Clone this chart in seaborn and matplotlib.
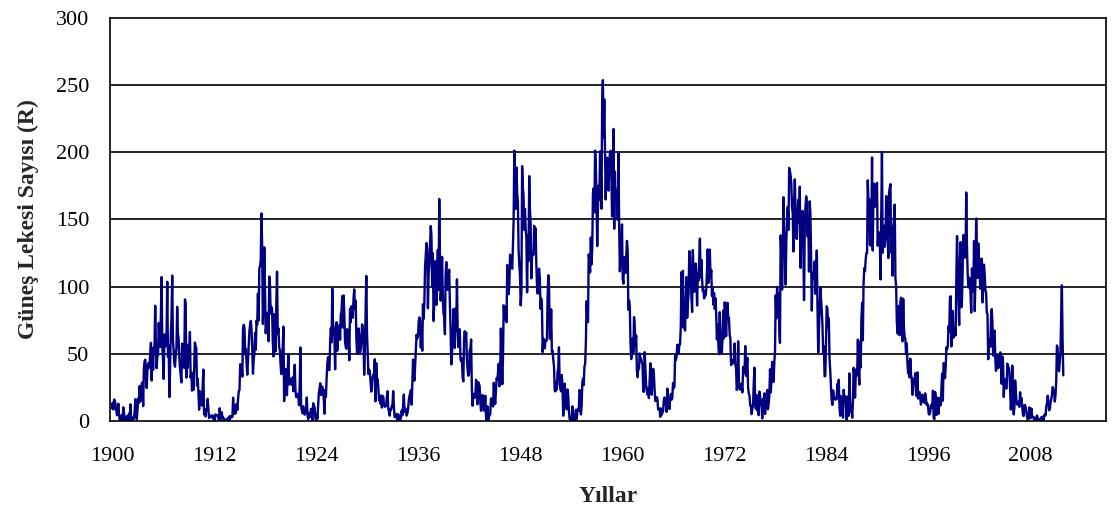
import numpy as np
import pandas as pd
import matplotlib
matplotlib.use("Agg")
import matplotlib.pyplot as plt
import seaborn as sns

# Monthly sunspot numbers (R), decade by decade (Jan 1900 onwards)
ssn_1900s = [
    9.4, 13.6, 8.6, 16.0, 15.2, 12.1, 8.3, 4.3, 8.3, 12.9, 4.5, 0.3,
    0.2, 2.4, 4.5, 0.0, 10.2, 5.8, 0.7, 1.0, 0.6, 3.7, 3.8, 0.0,
    5.5, 0.0, 12.4, 0.0, 2.8, 1.4, 0.9, 2.3, 7.6, 16.3, 10.3, 1.1,
    8.3, 17.0, 13.5, 26.1, 14.6, 16.3, 27.9, 28.8, 11.1, 38.9, 44.5, 45.6,
    31.6, 24.5, 37.2, 43.0, 39.5, 41.9, 50.6, 58.2, 30.1, 54.2, 38.0, 54.6,
    54.8, 85.8, 56.5, 39.3, 48.0, 49.0, 73.0, 58.8, 55.0, 78.7, 107.2, 55.5,
    45.5, 31.3, 64.5, 55.3, 57.7, 63.2, 103.6, 47.7, 56.1, 17.8, 38.9, 64.7,
    76.4, 108.2, 60.7, 52.6, 42.9, 40.4, 49.7, 54.3, 85.0, 65.4, 61.5, 47.3,
    39.2, 33.9, 28.7, 57.6, 40.8, 48.1, 39.5, 90.5, 86.9, 32.3, 45.5, 39.5,
    56.7, 46.6, 66.3, 32.3, 36.0, 22.6, 35.8, 23.1, 38.8, 58.4, 55.8, 54.2,
]
ssn_1910s = [
    26.4, 31.5, 21.4, 8.4, 22.2, 12.3, 14.1, 11.5, 26.2, 38.3, 4.9, 5.8,
    3.4, 9.0, 7.8, 16.5, 9.0, 2.2, 3.5, 4.0, 4.0, 2.6, 4.2, 2.2,
    0.3, 0.0, 4.9, 4.5, 4.4, 4.1, 3.0, 0.3, 9.5, 4.6, 1.1, 6.4,
    2.3, 2.9, 0.5, 0.9, 0.0, 0.0, 1.7, 0.2, 1.2, 3.1, 0.7, 3.8,
    2.8, 2.6, 3.1, 17.3, 5.2, 11.4, 5.4, 7.7, 12.7, 8.2, 16.4, 22.3,
    23.0, 42.3, 38.8, 41.3, 33.0, 68.8, 71.6, 69.6, 49.5, 53.5, 42.5, 34.5,
    45.3, 55.4, 67.0, 71.8, 74.5, 67.7, 53.5, 35.2, 45.1, 50.7, 65.6, 53.0,
    74.7, 71.9, 94.8, 74.7, 114.1, 114.9, 119.8, 154.5, 129.4, 72.2, 96.4, 129.3,
    96.0, 65.3, 72.2, 80.5, 76.7, 59.4, 107.6, 101.7, 79.9, 85.0, 83.4, 59.2,
    48.1, 79.5, 66.5, 51.8, 88.1, 111.2, 64.7, 69.0, 54.7, 52.8, 42.0, 34.9,
]
ssn_1920s = [
    51.1, 53.9, 70.2, 14.8, 33.3, 38.7, 27.5, 19.2, 36.3, 49.6, 27.2, 29.9,
    31.5, 28.3, 26.7, 32.4, 22.2, 33.7, 41.9, 22.8, 17.8, 18.2, 17.8, 20.3,
    11.8, 26.4, 54.7, 11.0, 8.0, 5.8, 10.9, 6.5, 4.7, 6.2, 7.4, 17.5,
    4.5, 1.5, 3.3, 6.1, 3.2, 9.1, 3.5, 0.5, 13.2, 11.6, 10.0, 2.8,
    0.5, 5.1, 1.8, 11.3, 20.8, 24.0, 28.1, 19.3, 25.1, 25.6, 22.5, 16.5,
    5.5, 23.2, 18.0, 31.7, 42.8, 47.5, 38.5, 37.9, 60.2, 69.2, 58.6, 98.6,
    71.8, 69.9, 62.5, 38.5, 64.3, 73.5, 52.3, 61.6, 60.8, 71.5, 60.5, 79.4,
    81.6, 93.0, 69.6, 93.5, 79.1, 59.1, 54.9, 53.8, 68.4, 63.1, 67.2, 45.2,
    83.5, 73.5, 85.4, 80.6, 76.9, 91.4, 98.0, 83.8, 89.7, 61.4, 50.3, 59.0,
    68.9, 64.1, 50.2, 52.8, 58.2, 71.9, 70.2, 65.8, 34.4, 54.0, 81.1, 108.0,
]
ssn_1930s = [
    65.3, 49.2, 35.0, 38.2, 36.8, 28.8, 21.9, 24.9, 32.1, 34.4, 35.6, 46.0,
    14.6, 43.1, 30.0, 31.2, 24.6, 15.3, 17.4, 13.0, 19.0, 10.0, 18.7, 17.8,
    12.1, 10.6, 11.2, 11.2, 17.9, 22.2, 9.6, 6.8, 4.0, 8.9, 8.2, 11.0,
    12.3, 22.2, 10.1, 2.9, 3.2, 5.2, 2.8, 0.2, 5.1, 3.0, 0.6, 0.3,
    3.4, 7.8, 4.3, 11.3, 19.7, 6.7, 9.3, 8.3, 4.0, 5.7, 8.7, 15.4,
    18.9, 20.5, 23.1, 12.2, 27.3, 45.7, 33.9, 30.1, 42.1, 53.2, 64.2, 61.5,
    62.8, 74.3, 77.1, 74.9, 54.6, 70.0, 52.3, 87.0, 76.0, 89.0, 115.4, 123.4,
    132.5, 128.5, 83.9, 109.3, 116.7, 130.3, 145.1, 137.7, 100.7, 124.9, 74.4, 88.8,
    98.4, 119.2, 86.5, 101.0, 127.4, 97.5, 165.3, 115.7, 89.6, 99.1, 122.2, 92.7,
    80.3, 77.4, 64.6, 109.1, 118.3, 101.0, 97.6, 105.8, 112.6, 88.1, 68.1, 42.1,
]
ssn_1940s = [
    50.5, 59.4, 83.3, 60.7, 54.4, 83.9, 67.5, 105.5, 66.5, 55.0, 58.4, 68.3,
    45.6, 44.5, 46.4, 32.8, 29.5, 59.8, 66.9, 60.0, 65.9, 46.3, 38.3, 33.7,
    35.6, 52.8, 54.2, 60.7, 25.0, 11.4, 17.7, 20.2, 17.2, 19.2, 30.7, 22.5,
    12.4, 28.9, 27.4, 26.1, 14.1, 7.6, 13.2, 19.4, 10.0, 7.8, 10.2, 18.8,
    3.7, 0.5, 11.0, 0.3, 2.5, 5.0, 5.0, 16.7, 14.3, 16.9, 10.8, 28.4,
    18.5, 12.7, 21.5, 32.0, 30.6, 36.2, 42.6, 25.9, 34.9, 68.8, 46.0, 27.4,
    47.6, 86.2, 76.6, 75.7, 84.9, 73.5, 116.2, 107.2, 94.4, 102.3, 123.8, 121.7,
    115.7, 113.4, 129.8, 149.8, 201.3, 163.9, 157.9, 188.8, 169.4, 163.6, 128.0, 116.5,
    108.5, 86.1, 94.8, 189.7, 174.0, 167.8, 142.2, 157.9, 143.3, 136.3, 95.8, 138.0,
    119.1, 182.3, 157.5, 147.0, 106.2, 121.7, 125.8, 123.8, 145.3, 131.6, 143.5, 117.6,
]
ssn_1950s = [
    101.6, 94.8, 109.7, 113.4, 106.2, 83.6, 91.0, 85.2, 51.3, 61.4, 54.8, 54.1,
    59.9, 59.9, 59.9, 92.9, 108.5, 100.6, 61.5, 61.0, 83.1, 51.6, 52.4, 45.8,
    40.7, 22.7, 22.0, 29.1, 23.4, 36.4, 39.3, 54.9, 28.2, 23.8, 22.1, 34.3,
    26.5, 3.9, 10.0, 27.8, 12.5, 21.8, 8.6, 23.5, 19.3, 8.2, 1.6, 2.5,
    0.2, 0.5, 10.9, 1.8, 0.8, 0.2, 4.8, 8.4, 1.5, 7.0, 9.2, 7.6,
    23.1, 20.8, 4.9, 11.3, 28.9, 31.7, 26.7, 40.7, 42.7, 58.5, 89.2, 76.9,
    73.6, 124.0, 118.4, 110.7, 136.6, 116.6, 129.1, 169.6, 173.2, 155.3, 201.3, 192.1,
    165.0, 130.2, 157.4, 175.2, 164.6, 200.7, 187.2, 158.0, 235.8, 253.8, 210.9, 239.4,
    202.5, 164.9, 190.7, 196.0, 175.3, 171.5, 191.4, 200.2, 201.2, 181.5, 152.3, 187.6,
    217.4, 143.1, 185.7, 163.3, 172.0, 168.7, 149.6, 199.6, 145.2, 111.4, 124.0, 125.0,
]
ssn_1960s = [
    146.3, 106.0, 102.2, 122.0, 119.6, 110.2, 121.7, 134.1, 127.2, 82.8, 89.6, 85.6,
    57.9, 46.1, 53.0, 61.4, 51.0, 77.4, 70.2, 55.8, 63.6, 37.7, 32.6, 39.9,
    38.7, 50.3, 45.6, 46.4, 43.7, 42.0, 21.8, 21.8, 51.3, 39.5, 26.9, 23.2,
    19.8, 24.4, 17.1, 29.3, 43.0, 35.9, 19.6, 33.2, 38.8, 35.3, 23.4, 14.9,
    15.3, 17.7, 16.5, 8.6, 9.5, 9.1, 3.1, 9.3, 4.7, 6.1, 7.4, 15.1,
    17.5, 14.2, 11.7, 6.8, 24.1, 15.9, 11.9, 8.9, 16.8, 20.1, 15.8, 17.0,
    28.2, 24.4, 25.3, 48.7, 45.3, 47.7, 56.7, 51.2, 50.2, 57.2, 57.2, 70.4,
    110.9, 93.6, 111.8, 69.5, 86.5, 67.3, 91.5, 107.2, 76.8, 88.2, 94.3, 126.4,
    121.8, 111.9, 92.2, 81.2, 127.2, 110.3, 96.1, 109.3, 117.2, 107.7, 86.0, 109.8,
    104.4, 120.5, 135.8, 106.8, 120.0, 106.0, 96.8, 98.0, 91.3, 95.7, 93.5, 97.9,
]
ssn_1970s = [
    111.5, 127.8, 102.9, 109.5, 127.5, 106.8, 112.5, 93.0, 99.5, 86.6, 95.2, 83.5,
    91.3, 79.0, 60.7, 71.8, 57.5, 49.8, 81.0, 61.4, 50.2, 51.7, 63.2, 82.2,
    61.5, 88.4, 80.1, 63.2, 80.5, 88.0, 76.5, 76.8, 64.0, 61.3, 41.6, 45.3,
    43.4, 42.9, 46.0, 57.7, 42.4, 39.5, 23.1, 25.6, 59.3, 30.7, 23.9, 23.3,
    27.6, 26.0, 21.3, 40.3, 39.5, 36.0, 55.8, 33.6, 40.2, 47.1, 25.0, 20.5,
    18.9, 11.5, 11.5, 5.1, 9.0, 11.4, 28.2, 39.7, 13.9, 9.1, 19.4, 7.8,
    8.1, 4.3, 21.9, 18.8, 12.4, 12.2, 1.9, 16.4, 13.5, 20.6, 5.2, 15.3,
    16.4, 23.1, 8.7, 12.9, 18.6, 38.5, 21.4, 30.1, 44.0, 43.8, 29.1, 43.2,
    51.9, 93.6, 76.5, 99.7, 82.7, 95.1, 70.4, 58.1, 138.2, 125.1, 97.9, 122.7,
    166.6, 137.5, 138.0, 101.5, 134.4, 149.5, 159.4, 142.2, 188.4, 186.2, 183.3, 176.3,
]
ssn_1980s = [
    159.6, 155.0, 126.2, 164.1, 179.9, 157.3, 136.3, 135.4, 155.0, 164.7, 147.9, 174.4,
    114.0, 141.3, 135.5, 156.4, 127.5, 90.0, 143.8, 158.7, 167.3, 162.4, 137.5, 150.1,
    111.2, 163.6, 153.8, 122.0, 82.2, 110.4, 106.1, 107.6, 118.8, 94.7, 98.1, 127.0,
    84.3, 51.0, 66.5, 80.7, 99.2, 91.1, 82.2, 71.8, 50.3, 55.8, 33.3, 33.4,
    57.0, 85.4, 83.5, 69.7, 76.4, 46.1, 37.4, 25.5, 15.7, 12.0, 22.8, 18.7,
    16.5, 15.9, 17.2, 16.2, 27.5, 24.2, 30.7, 11.1, 3.9, 18.6, 16.2, 17.3,
    2.5, 23.2, 15.1, 18.5, 13.7, 1.1, 18.1, 7.4, 3.8, 35.4, 15.2, 6.8,
    10.4, 2.4, 14.7, 39.6, 33.0, 17.4, 33.9, 38.7, 33.9, 60.6, 39.9, 27.1,
    59.0, 40.0, 76.2, 88.0, 60.1, 101.8, 113.8, 111.6, 120.1, 125.1, 125.1, 179.2,
    161.3, 165.1, 131.4, 130.6, 138.5, 196.2, 126.9, 168.9, 176.7, 159.4, 173.0, 165.5,
]
ssn_1990s = [
    177.3, 130.5, 140.3, 140.3, 132.2, 105.4, 149.4, 200.3, 125.2, 145.5, 131.4, 129.7,
    136.9, 167.5, 141.9, 140.0, 121.3, 169.7, 173.7, 176.3, 125.3, 144.1, 108.2, 144.4,
    150.0, 161.1, 106.7, 99.8, 73.8, 65.2, 85.7, 64.5, 63.9, 88.7, 91.8, 82.6,
    59.3, 91.0, 69.8, 62.2, 61.3, 49.8, 57.9, 42.4, 35.4, 44.5, 32.4, 46.4,
    34.3, 32.2, 19.5, 22.5, 31.4, 27.9, 35.5, 27.0, 18.4, 36.2, 16.7, 21.2,
    21.6, 18.2, 12.2, 15.6, 19.7, 14.4, 15.7, 13.5, 20.6, 17.1, 12.0, 13.0,
    11.6, 5.3, 4.8, 5.9, 11.3, 12.2, 10.1, 22.5, 2.4, 1.4, 21.7, 18.0,
    4.5, 7.3, 17.3, 5.3, 16.9, 11.6, 11.8, 24.9, 35.3, 15.1, 43.1, 42.2,
    31.9, 40.3, 54.8, 53.4, 56.3, 70.7, 66.6, 92.2, 92.9, 55.5, 74.0, 81.9,
    62.0, 66.3, 68.8, 63.7, 106.4, 137.7, 113.5, 93.7, 71.5, 116.7, 133.2, 84.6,
]
ssn_2000s = [
    90.1, 112.9, 138.5, 125.5, 121.6, 124.9, 170.1, 130.5, 109.7, 99.4, 106.8, 104.4,
    95.6, 80.6, 113.5, 107.7, 96.6, 134.0, 81.8, 106.4, 150.7, 125.5, 106.5, 132.2,
    114.1, 107.4, 98.4, 120.7, 120.8, 88.3, 99.6, 116.4, 109.6, 97.5, 95.5, 80.8,
    79.7, 46.0, 61.1, 60.0, 55.2, 77.4, 83.3, 72.7, 48.7, 65.5, 67.3, 46.5,
    37.3, 45.8, 49.1, 39.3, 41.5, 43.2, 51.1, 40.9, 27.7, 48.0, 43.5, 17.9,
    31.3, 29.2, 24.5, 24.2, 42.7, 39.3, 40.1, 36.4, 22.1, 8.5, 18.0, 41.2,
    15.3, 4.9, 10.6, 30.2, 22.3, 13.9, 12.2, 12.9, 14.4, 10.5, 21.4, 13.6,
    16.9, 10.6, 4.8, 3.7, 11.7, 12.0, 10.0, 6.2, 2.4, 0.9, 1.7, 10.1,
    3.3, 2.1, 9.3, 2.9, 2.9, 3.1, 0.5, 0.5, 1.1, 2.9, 4.1, 0.8,
    1.5, 1.4, 0.7, 0.8, 2.9, 2.9, 3.2, 0.0, 4.3, 4.8, 4.1, 10.8,
]
ssn_2010s = [
    13.2, 18.8, 15.4, 8.0, 8.7, 13.6, 16.1, 19.6, 25.2, 23.5, 21.6, 14.5,
    19.0, 29.4, 56.2, 54.4, 41.6, 37.0, 43.9, 50.6, 78.0, 101.0, 60.0, 34.0,
]

start_year = 1900
x_tick_years = [1900, 1912, 1924, 1936, 1948, 1960, 1972, 1984, 1996, 2008]
y_ticks = [0, 50, 100, 150, 200, 250, 300]
x_label = "Yıllar"
y_label = "Güneş Lekesi Sayısı (R)"

values = (ssn_1900s + ssn_1910s + ssn_1920s + ssn_1930s + ssn_1940s + ssn_1950s
          + ssn_1960s + ssn_1970s + ssn_1980s + ssn_1990s + ssn_2000s + ssn_2010s)
df = pd.DataFrame({"year": start_year + np.arange(len(values)) / 12.0, "R": values})

sns.set_style("white")
plt.rcParams["font.family"] = ["Liberation Serif", "DejaVu Serif"]

fig = plt.figure(figsize=(11.16, 5.11), dpi=100)
W, H = 1116, 511
ax = fig.add_axes([110 / W, (H - 421) / H, (1106 - 110) / W, (421 - 18) / H])

sns.lineplot(data=df, x="year", y="R", color="#000080", linewidth=1.7, ax=ax)

ax.set_xlim(1900 - 2 / 8.5, 1900 + (1106 - 112) / 8.5)
ax.set_ylim(0, 300)
ax.set_xticks(x_tick_years)
ax.set_xticklabels([str(y) for y in x_tick_years])
ax.set_yticks(y_ticks)
for v in y_ticks[1:-1]:
    ax.axhline(v, color="black", linewidth=1.2, zorder=0)

for s in ax.spines.values():
    s.set_visible(True)
    s.set_color("black")
    s.set_linewidth(1.2)

ax.tick_params(axis="x", direction="out", length=5, width=1.2, color="black",
               labelsize=16, pad=14, labelcolor="black")
ax.tick_params(axis="y", direction="out", length=5, width=1.2, color="black",
               labelsize=16, pad=10, labelcolor="black")
ax.set_xlabel(x_label, fontsize=17, fontweight="bold", labelpad=14)
ax.set_ylabel(y_label, fontsize=17, fontweight="bold", labelpad=12)
ax.grid(False)

fig.savefig("out.png", dpi=100)
